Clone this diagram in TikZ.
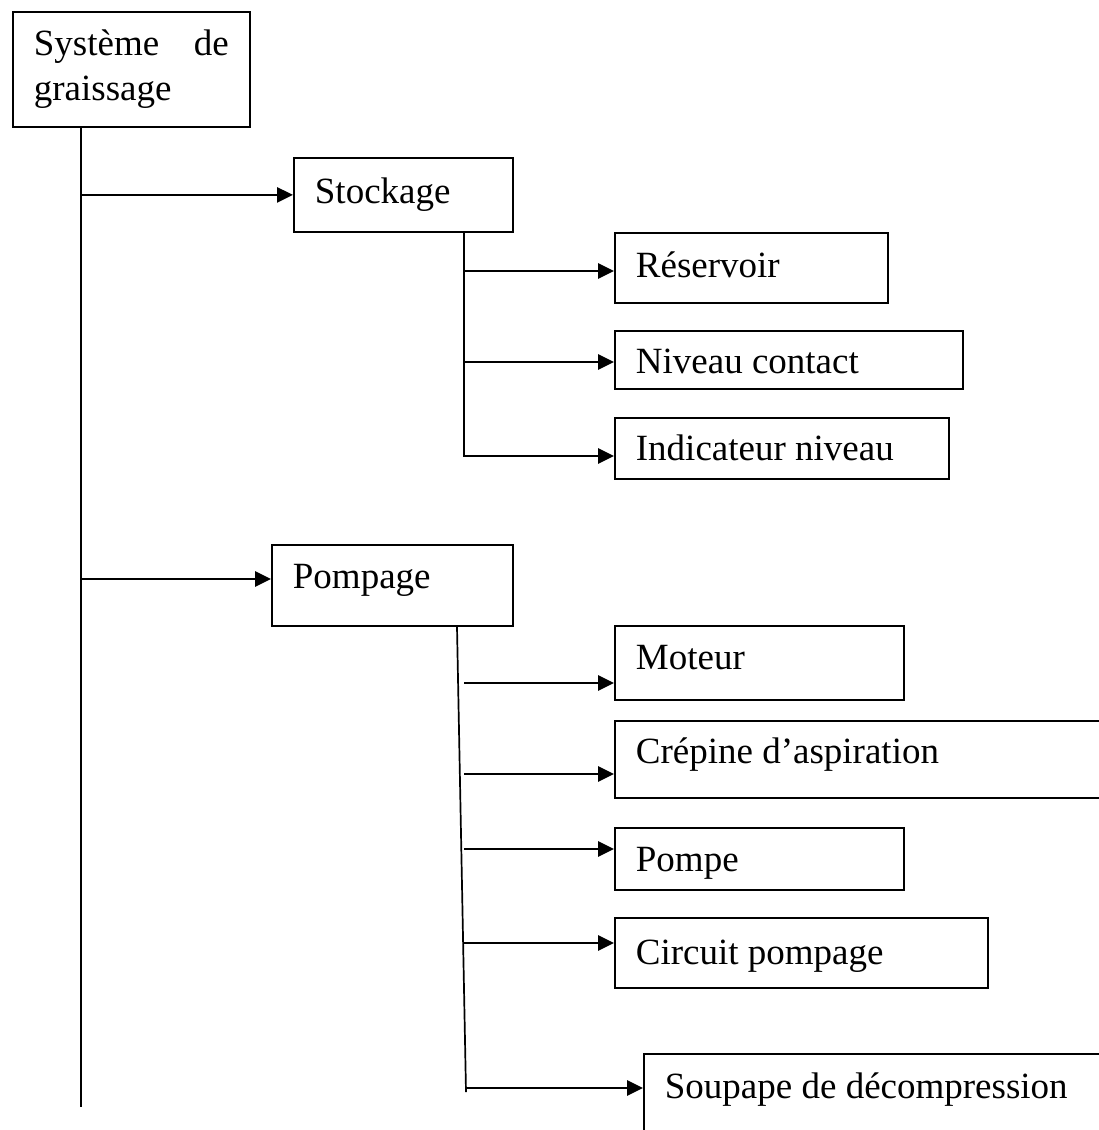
\documentclass[tikz,border=0pt]{standalone}
\usepackage{fontspec}
\setmainfont{Liberation Serif}
\usetikzlibrary{arrows.meta}
\newcommand{\boxtext}[2]{\parbox[t]{#1}{#2}}
\begin{document}
\begin{tikzpicture}[x=1pt,y=-1pt,
  box/.style={draw, line width=1.8pt, anchor=north west, inner xsep=21pt,
    inner ysep=0pt, font=\fontsize{37pt}{45pt}\selectfont},
  bx/.style n args={2}{text height=#1, text depth=#2},
  arr/.style={line width=2.7pt, -{Triangle[length=16pt,width=15pt]}},
  trunk/.style={line width=2.3pt},
  thin trunk/.style={line width=1.7pt}]
\useasboundingbox (0,0) rectangle (1099,1130);
\clip (0,0) rectangle (1099,1130);

% root
\node[box, bx={44pt}{71pt}] (main) at (12,11)
  {\boxtext{195pt}{Système\hfill de\\graissage}};

% first level
\node[box, bx={46pt}{28pt}] (stock) at (293,157) {\boxtext{177pt}{Stockage}};
\node[box, bx={44pt}{37pt}] (pomp) at (271,544) {\boxtext{199pt}{Pompage}};

% storage items
\node[box, bx={45pt}{25pt}] (res) at (614,232) {\boxtext{231pt}{Réservoir}};
\node[box, bx={43pt}{15pt}] (niv) at (614,330) {\boxtext{306pt}{Niveau contact}};
\node[box, bx={43pt}{18pt}] (ind) at (614,417) {\boxtext{292pt}{Indicateur niveau}};

% pumping items
\node[box, bx={44pt}{30pt}] (mot) at (614,625) {\boxtext{247pt}{Moteur}};
\node[box, bx={43pt}{34pt}] (crep) at (614,720) {\boxtext{458pt}{Crépine d’aspiration}};
\node[box, bx={44pt}{18pt}] (pompe) at (614,827) {\boxtext{247pt}{Pompe}};
\node[box, bx={47pt}{23pt}] (circ) at (614,917) {\boxtext{331pt}{Circuit pompage}};
\node[box, bx={45pt}{55pt}] (soup) at (643,1053) {\boxtext{458pt}{Soupape de décompression}};

% root trunk
\coordinate (mainEnd) at (81,1107);
\draw[trunk] (main.south -| mainEnd) -- (mainEnd);
\coordinate (pompIn) at ([yshift=-35pt]pomp.north west);
\draw[arr] (mainEnd |- stock.west) -- (stock.west);
\draw[arr] (mainEnd |- pompIn) -- (pompIn);

% storage branch
\coordinate (stockEnd) at (464,457);
\draw[trunk] (stock.south -| stockEnd) -- (stockEnd);
\coordinate (resIn) at ([yshift=-39pt]res.north west);
\coordinate (nivIn) at ([yshift=-32pt]niv.north west);
\coordinate (indIn) at ([yshift=-39pt]ind.north west);
\draw[arr] (stockEnd |- resIn) -- (resIn);
\draw[arr] (stockEnd |- nivIn) -- (nivIn);
\draw[arr] (stockEnd |- indIn) -- (indIn);

% pumping branch
\coordinate (pompX) at (457,0);
\coordinate (pompArm) at (464,0);
\coordinate (pompEnd) at (466,1092);
\draw[thin trunk] (pomp.south -| pompX) -- (pompEnd);
\coordinate (motIn) at ([yshift=-58pt]mot.north west);
\coordinate (crepIn) at ([yshift=-54pt]crep.north west);
\coordinate (pompeIn) at ([yshift=-22pt]pompe.north west);
\coordinate (circIn) at ([yshift=-26pt]circ.north west);
\coordinate (soupIn) at ([yshift=-35pt]soup.north west);
\draw[arr] (pompArm |- motIn) -- (motIn);
\draw[arr] (pompArm |- crepIn) -- (crepIn);
\draw[arr] (pompArm |- pompeIn) -- (pompeIn);
\draw[arr] (pompArm |- circIn) -- (circIn);
\draw[arr] (pompEnd |- soupIn) -- (soupIn);
\end{tikzpicture}
\end{document}
